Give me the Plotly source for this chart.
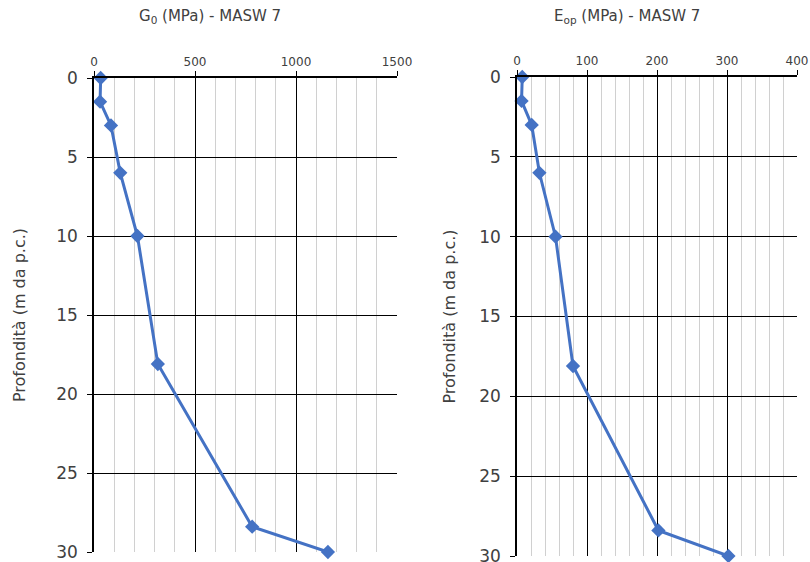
import plotly.graph_objects as go

depth = [0, 1.5, 3, 6, 10, 18.1, 28.4, 30]
g0_mpa = [33, 30, 84, 130, 215, 316, 783, 1158]
eop_mpa = [7.5, 6.5, 21, 32, 55, 80, 202, 302]

title_left = "G<sub>0</sub> (MPa) - MASW 7"
title_right = "E<sub>op</sub> (MPa) - MASW 7"
ytitle = "Profondità (m da p.c.)"

FONT = "DejaVu Sans"
BLUE = "#4472C4"

fig = go.Figure()
fig.add_trace(go.Scatter(x=g0_mpa, y=depth, mode="lines+markers", xaxis="x", yaxis="y",
                         line=dict(color=BLUE, width=3),
                         marker=dict(symbol="diamond", size=11, color=BLUE),
                         cliponaxis=False, showlegend=False))
fig.add_trace(go.Scatter(x=eop_mpa, y=depth, mode="lines+markers", xaxis="x2", yaxis="y2",
                         line=dict(color=BLUE, width=3),
                         marker=dict(symbol="diamond", size=11, color=BLUE),
                         cliponaxis=False, showlegend=False))

def xax(domain, rng, dtick, minor, anchor):
    return dict(domain=domain, range=rng, side="top", dtick=dtick, tick0=0, anchor=anchor,
                automargin=False, ticklabeloverflow="allow",
                showgrid=True, gridcolor="#000000", gridwidth=1,
                showline=True, linecolor="#000000", linewidth=1.5,
                ticks="outside", ticklen=5, tickcolor="#000000",
                tickfont=dict(family=FONT, size=12, color="#404040"),
                minor=dict(dtick=minor, tick0=0, showgrid=True, gridcolor="#d0d0d0", gridwidth=1, ticks=""),
                zeroline=False, fixedrange=True)

def yax(domain, anchor, standoff):
    return dict(domain=domain, range=[30, 0], dtick=5, tick0=0, anchor=anchor,
                automargin=False, ticklabeloverflow="allow",
                showgrid=True, gridcolor="#000000", gridwidth=1,
                showline=True, linecolor="#000000", linewidth=1.5,
                ticks="outside", ticklen=5, tickcolor="#000000",
                ticklabelstandoff=6,
                tickfont=dict(family=FONT, size=17, color="#404040"),
                title=dict(text=ytitle, font=dict(family=FONT, size=16, color="#404040"), standoff=standoff),
                zeroline=False, fixedrange=True)

fig.update_layout(
    width=810, height=562,
    margin=dict(l=0, r=0, t=0, b=0),
    paper_bgcolor="white", plot_bgcolor="white",
    xaxis=xax([94/810, 397/810], [0, 1500], 500, 100, "y"),
    yaxis=yax([1 - 552/562, 1 - 78/562], "x", 27),
    xaxis2=xax([517/810, 797/810], [0, 400], 100, 20, "y2"),
    yaxis2=yax([1 - 556/562, 1 - 77/562], "x2", 20),
    annotations=[
        dict(text=title_left, x=210/810, y=1 - 17/562, xref="paper", yref="paper", showarrow=False,
             xanchor="center", yanchor="middle",
             font=dict(family=FONT, size=15, color="#404040")),
        dict(text=title_right, x=627/810, y=1 - 17/562, xref="paper", yref="paper", showarrow=False,
             xanchor="center", yanchor="middle",
             font=dict(family=FONT, size=15, color="#404040")),
    ],
)

fig.write_html("out.html")
